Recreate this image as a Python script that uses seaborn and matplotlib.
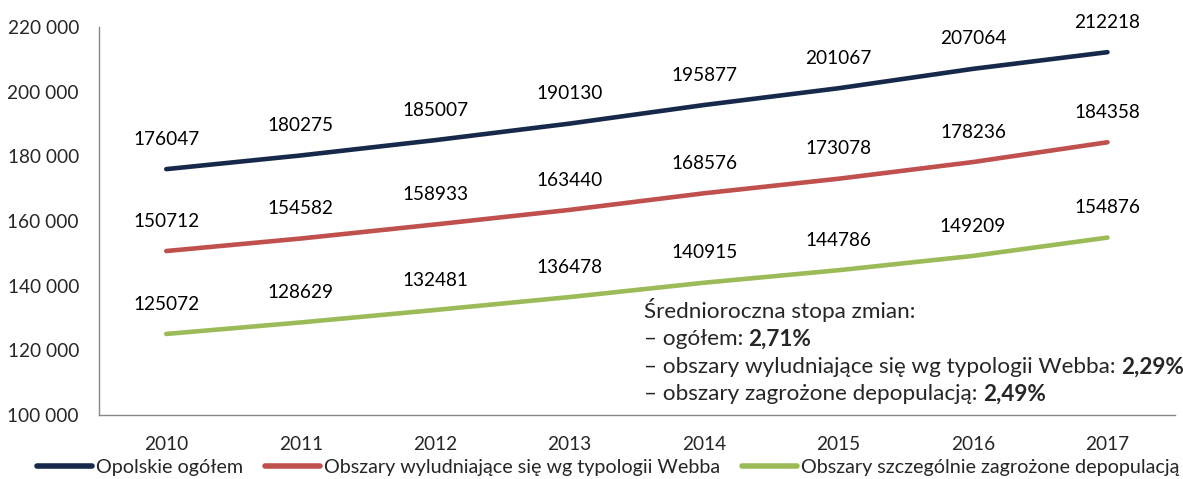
import pandas as pd
import seaborn as sns
import matplotlib.pyplot as plt
from matplotlib.ticker import FuncFormatter, MultipleLocator

# Data
years = [2010, 2011, 2012, 2013, 2014, 2015, 2016, 2017]
opolskie = [176047, 180275, 185007, 190130, 195877, 201067, 207064, 212218]
webb = [150712, 154582, 158933, 163440, 168576, 173078, 178236, 184358]
depop = [125072, 128629, 132481, 136478, 140915, 144786, 149209, 154876]

series_names = [
    "Opolskie ogółem",
    "Obszary wyludniające się wg typologii Webba",
    "Obszary szczególnie zagrożone depopulacją",
]
colors = ["#17294A", "#C0504D", "#9BBB59"]

rates_title = "Średnioroczna stopa zmian:"
rates_labels = ["– ogółem: ", "– obszary wyludniające się wg typologii Webba: ",
                "– obszary zagrożone depopulacją: "]
rates_values = ["2,71%", "2,29%", "2,49%"]

# Build long table
rows = []
for name, vals in zip(series_names, [opolskie, webb, depop]):
    for i, (y, v) in enumerate(zip(years, vals)):
        rows.append({"idx": i, "year": y, "value": v, "series": name})
df = pd.DataFrame(rows)

sns.set_style("white")
plt.rcParams["font.family"] = ["Lato", "DejaVu Sans"]
FS = 13.7
FS_LEG = 14.2
FS_NOTE = 16.2

fig = plt.figure(figsize=(11.83, 4.79), dpi=100)
ax = fig.add_axes([0.0837, 0.1336, 0.9093, 0.81])

sns.lineplot(data=df, x="idx", y="value", hue="series", palette=colors,
             linewidth=3.3, ax=ax, legend=False, solid_capstyle="round")

# Data labels
for _, r in df.iterrows():
    ax.annotate(f"{r['value']}", xy=(r["idx"], r["value"]), xytext=(0, 21.5),
                textcoords="offset points", ha="center", va="center",
                fontsize=FS, color="black")

# Axes styling
ax.set_xlim(-0.5, 7.5)
ax.set_ylim(100000, 220000)
ax.yaxis.set_major_locator(MultipleLocator(20000))
ax.yaxis.set_major_formatter(FuncFormatter(lambda v, p: f"{int(v):,}".replace(",", " ")))
ax.set_xticks(range(len(years)))
ax.set_xticklabels([str(y) for y in years])
ax.set_xticks([i - 0.5 for i in range(len(years) + 1)], minor=True)
ax.tick_params(axis="x", which="major", length=0, pad=15, labelsize=FS)
ax.tick_params(axis="x", which="minor", length=4.5, width=1, color="#868686", direction="out")
ax.tick_params(axis="y", length=4.5, width=1, color="#868686", direction="out", pad=10, labelsize=FS)
ax.set_xlabel("")
ax.set_ylabel("")
for s in ["top", "right"]:
    ax.spines[s].set_visible(False)
for s in ["left", "bottom"]:
    ax.spines[s].set_color("#868686")
    ax.spines[s].set_linewidth(1)
ax.grid(False)

# Annotation block
ax.text(3.55, 132400, rates_title, fontsize=FS_NOTE, va="center", ha="left")
ys = [123400, 114700, 106400]
for lab, val, y in zip(rates_labels, rates_values, ys):
    t = ax.text(3.55, y, lab, fontsize=FS_NOTE, va="center", ha="left")
    ax.annotate(val, xy=(1, 0), xycoords=t, va="bottom", ha="left",
                fontsize=FS_NOTE, fontweight="bold")

# Legend
handles = [plt.Line2D([0], [0], color=c, lw=4, solid_capstyle="round") for c in colors]
fig.legend(handles, series_names, loc="lower center", bbox_to_anchor=(0.514, -0.03),
           ncol=3, frameon=False, fontsize=FS_LEG, handlelength=2.8, handletextpad=0.2,
           columnspacing=1.1)

fig.savefig("out.png", dpi=100)
